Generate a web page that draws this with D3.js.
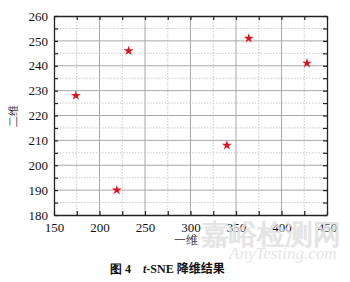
<!DOCTYPE html>
<html>
<head>
<meta charset="utf-8">
<script src="https://cdn.jsdelivr.net/npm/d3@7"></script>
<style>
  body { margin: 0; background: #fff; }
  text { font-family: "Liberation Serif", "Times New Roman", serif; }
</style>
</head>
<body>
<div id="chart"></div>
<script>
// données
const dim1 = [174, 219, 232, 340, 364, 428]
const dim2 = [228, 190, 246, 208, 251, 241]
const xTicks = [150, 200, 250, 300, 350, 400, 450]
const yTicks = [180, 190, 200, 210, 220, 230, 240, 250, 260]

const W = 350, H = 282
const margin = {top: 16, right: 23, bottom: 67, left: 54},
    width = W - margin.left - margin.right,
    height = H - margin.top - margin.bottom

const svg = d3.select("#chart").append("svg")
    .attr("width", W).attr("height", H)

const g = svg.append("g")
    .attr("transform", "translate(" + margin.left + "," + margin.top + ")")

const x = d3.scaleLinear().domain([150, 450]).range([0, width])
const y = d3.scaleLinear().domain([180, 260]).range([height, 0])

// grille mineure (pointillés)
const xMinor = d3.range(175, 450, 50)
const yMinor = d3.range(185, 260, 10)
g.append("g").selectAll("line").data(xMinor).enter().append("line")
    .attr("x1", d => x(d)).attr("x2", d => x(d)).attr("y1", 0).attr("y2", height)
    .attr("stroke", "#bbb").attr("stroke-width", 0.8).attr("stroke-dasharray", "1.5,1.5")
g.append("g").selectAll("line").data(yMinor).enter().append("line")
    .attr("y1", d => y(d)).attr("y2", d => y(d)).attr("x1", 0).attr("x2", width)
    .attr("stroke", "#bbb").attr("stroke-width", 0.8).attr("stroke-dasharray", "1.5,1.5")

// grille majeure
g.append("g").selectAll("line").data(xTicks.slice(1, -1)).enter().append("line")
    .attr("x1", d => x(d)).attr("x2", d => x(d)).attr("y1", 0).attr("y2", height)
    .attr("stroke", "#a8a8a8").attr("stroke-width", 1)
g.append("g").selectAll("line").data(yTicks.slice(1, -1)).enter().append("line")
    .attr("y1", d => y(d)).attr("y2", d => y(d)).attr("x1", 0).attr("x2", width)
    .attr("stroke", "#a8a8a8").attr("stroke-width", 1)

// axes avec graduations vers l'intérieur
const allX = d3.range(150, 451, 25)
const allY = d3.range(180, 261, 5)
function styleAxis(sel) {
  sel.select(".domain").attr("stroke", "#222").attr("stroke-width", 1.3)
  sel.selectAll(".tick line").attr("stroke", "#222").attr("stroke-width", 1.2)
  sel.selectAll("text").attr("font-size", 13).attr("fill", "#111")
    .attr("font-family", "'Liberation Serif', serif")
}
g.append("g").attr("transform", "translate(0," + height + ")")
    .call(d3.axisBottom(x).tickValues(allX).tickSizeInner(-4).tickSizeOuter(0)
      .tickFormat(d => xTicks.includes(d) ? d : ""))
    .call(styleAxis)
    .call(s => s.selectAll("text").attr("dy", "1.05em"))
g.append("g")
    .call(d3.axisTop(x).tickValues(allX).tickSizeInner(-4).tickSizeOuter(0).tickFormat(""))
    .call(styleAxis)
g.append("g")
    .call(d3.axisLeft(y).tickValues(allY).tickSizeInner(-4).tickSizeOuter(0)
      .tickFormat(d => yTicks.includes(d) ? d : ""))
    .call(styleAxis)
    .call(s => s.selectAll("text").attr("x", -6))
g.append("g").attr("transform", "translate(" + width + ",0)")
    .call(d3.axisRight(y).tickValues(allY).tickSizeInner(-4).tickSizeOuter(0).tickFormat(""))
    .call(styleAxis)

// points (étoiles)
const star = d3.symbol().type(d3.symbolStar).size(30)
g.append("g").selectAll("path").data(dim1).enter().append("path")
    .attr("d", star)
    .attr("transform", (d, i) => "translate(" + x(d) + "," + y(dim2[i]) + ")")
    .attr("fill", "#e3101e")

// libellés des axes
svg.append("text")
    .attr("x", margin.left + x(295)).attr("y", 244)
    .attr("text-anchor", "middle").attr("font-size", 12).attr("fill", "#333")
    .text("一维")
svg.append("text")
    .attr("transform", "translate(17," + (margin.top + y(220)) + ") rotate(-90)")
    .attr("text-anchor", "middle").attr("font-size", 11).attr("fill", "#333")
    .text("二维")

// filigrane
svg.append("text")
    .attr("x", 201).attr("y", 244).attr("font-size", 28)
    .attr("font-family", "'Noto Sans CJK SC', sans-serif").attr("font-weight", "bold")
    .attr("fill", "#dedede").attr("opacity", 0.8)
    .text("嘉峪检测网")
svg.append("text")
    .attr("x", 229).attr("y", 259).attr("font-size", 17)
    .attr("font-family", "'DejaVu Sans', sans-serif").attr("font-style", "italic")
    .attr("fill", "#e0e0e0").attr("opacity", 0.8)
    .text("AnyTesting.com")

// légende de la figure
const cap = svg.append("text")
    .attr("x", 110).attr("y", 273).attr("font-size", 12).attr("font-weight", "bold").attr("fill", "#111")
cap.append("tspan").text("图 4")
cap.append("tspan").attr("dx", 12).attr("font-style", "italic").text("t")
cap.append("tspan").text("-SNE ")
cap.append("tspan").attr("font-family", "'Noto Sans CJK SC', sans-serif").text("降维结果")
</script>
</body>
</html>
